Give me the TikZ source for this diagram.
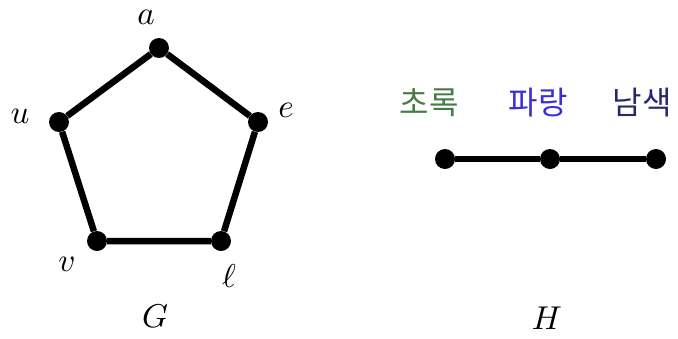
\documentclass[tikz,border=0pt]{standalone}
\usepackage{fontspec}
\newfontfamily\kr{Noto Sans CJK KR}
\definecolor{grn}{RGB}{70,125,70}
\definecolor{blu}{RGB}{60,45,215}
\definecolor{nav}{RGB}{40,40,110}
\begin{document}
\begin{tikzpicture}[x=1pt,y=-1pt,
  vtx/.style={circle,fill=black,inner sep=0pt,minimum size=20pt},
  edge/.style={line width=6.5pt},
  lbl/.style={inner sep=0pt,scale=3.3},
  klbl/.style={inner sep=0pt,font=\fontsize{32}{38}\selectfont\kr}]
\useasboundingbox (0,0) rectangle (678,338);
% G
\node[vtx] (a) at (159,48) {};
\node[vtx] (e) at (258,122) {};
\node[vtx] (l) at (221,241) {};
\node[vtx] (v) at (97,241) {};
\node[vtx] (u) at (59,122) {};
\draw[edge] (a) -- (e) -- (l) -- (v) -- (u) -- (a);
\node[lbl] (la) at (146,17) {$a$};
\node[lbl] (le) at (286,110) {$e$};
\node[lbl] (ll) at (229,276) {$\ell$};
\node[lbl] (lv) at (67,264) {$v$};
\node[lbl] (lu) at (20,116) {$u$};
\node[lbl] (G) at (155,316) {$G$};
% H
\node[vtx] (h1) at (445,159) {};
\node[vtx] (h2) at (550,159) {};
\node[vtx] (h3) at (656,159) {};
\draw[edge] (h1) -- (h2) -- (h3);
\node[klbl,text=grn] (t1) at (429,103) {초록};
\node[klbl,text=blu] (t2) at (538,103) {파랑};
\node[klbl,text=nav] (t3) at (642,103) {남색};
\node[lbl] (H) at (547,318) {$H$};
\end{tikzpicture}
\end{document}
